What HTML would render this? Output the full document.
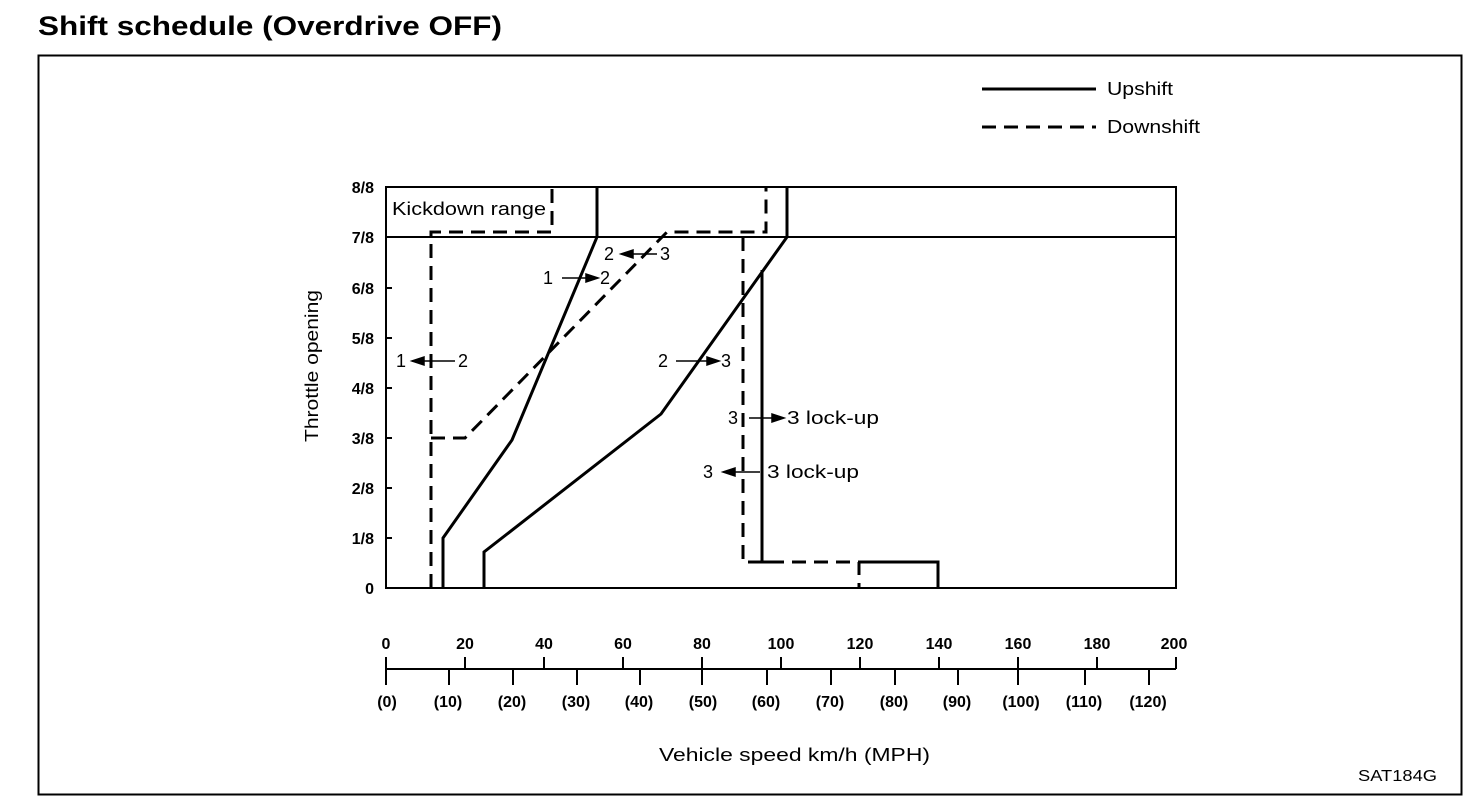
<!DOCTYPE html>
<html><head><meta charset="utf-8"><style>
html,body{margin:0;padding:0;background:#fff;}
svg{display:block;font-family:"Liberation Sans",Arial,sans-serif;}
</style></head><body>
<svg width="1472" height="810" viewBox="0 0 1472 810" xmlns="http://www.w3.org/2000/svg">
<text x="38" y="35" font-size="27" font-weight="bold" textLength="464" lengthAdjust="spacingAndGlyphs">Shift schedule (Overdrive OFF)</text>
<rect x="38.5" y="55.5" width="1423" height="739" fill="none" stroke="#000" stroke-width="2"/>
<g stroke="#000" fill="none">
<line x1="982" y1="89" x2="1096" y2="89" stroke-width="3"/>
<line x1="982" y1="127" x2="1096" y2="127" stroke-width="3" stroke-dasharray="14,8"/>
<rect x="386" y="187" width="790" height="401" stroke-width="2"/>
<line x1="386" y1="237" x2="1176" y2="237" stroke-width="2"/>
<g stroke-width="2">
<line x1="386" y1="288" x2="392" y2="288"/><line x1="386" y1="338" x2="392" y2="338"/>
<line x1="386" y1="388" x2="392" y2="388"/><line x1="386" y1="438" x2="392" y2="438"/>
<line x1="386" y1="488" x2="392" y2="488"/><line x1="386" y1="538" x2="392" y2="538"/>
</g>
<polyline points="443,588 443,538 512,440 597,237 597,187" stroke-width="3"/>
<polyline points="484,588 484,552 661,414 787,237 787,187" stroke-width="3"/>
<polyline points="762,270 762,562 780,562" stroke-width="3"/>
<polyline points="859,562 938,562 938,588" stroke-width="3"/>
<g stroke-width="3" stroke-dasharray="14,8">
<polyline points="431,588 431,232 552,232 552,187"/>
<polyline points="431,438 465,438 667,232 766,232 766,187"/>
<polyline points="743,237 743,562 859,562 859,588"/>
</g>
<line x1="386" y1="669" x2="1176" y2="669" stroke-width="2"/>
<g stroke-width="2">
<line x1="386" y1="657" x2="386" y2="685"/>
<line x1="465" y1="657" x2="465" y2="669"/><line x1="544" y1="657" x2="544" y2="669"/>
<line x1="623" y1="657" x2="623" y2="669"/><line x1="702" y1="657" x2="702" y2="685"/>
<line x1="781" y1="657" x2="781" y2="669"/><line x1="860" y1="657" x2="860" y2="669"/>
<line x1="939" y1="657" x2="939" y2="669"/><line x1="1018" y1="657" x2="1018" y2="685"/>
<line x1="1097" y1="657" x2="1097" y2="669"/><line x1="1176" y1="657" x2="1176" y2="669"/>
<line x1="449" y1="669" x2="449" y2="685"/><line x1="513" y1="669" x2="513" y2="685"/>
<line x1="577" y1="669" x2="577" y2="685"/><line x1="640" y1="669" x2="640" y2="685"/>
<line x1="767" y1="669" x2="767" y2="685"/><line x1="831" y1="669" x2="831" y2="685"/>
<line x1="895" y1="669" x2="895" y2="685"/><line x1="958" y1="669" x2="958" y2="685"/>
<line x1="1085" y1="669" x2="1085" y2="685"/><line x1="1149" y1="669" x2="1149" y2="685"/>
</g>
</g>
<g stroke="#000" stroke-width="1.5" fill="#000">
<line x1="412" y1="361" x2="455" y2="361"/><polygon points="412,361 424,357 424,365"/>
<line x1="562" y1="278" x2="597" y2="278"/><polygon points="598,278 586,274 586,282"/>
<line x1="622" y1="254" x2="657" y2="254"/><polygon points="621,254 633,250 633,258"/>
<line x1="676" y1="361" x2="718" y2="361"/><polygon points="719,361 707,357 707,365"/>
<line x1="749" y1="418" x2="783" y2="418"/><polygon points="784,418 772,414 772,422"/>
<line x1="724" y1="472" x2="760" y2="472"/><polygon points="723,472 735,468 735,476"/>
</g>
<g font-size="18" fill="#000">
<text x="1107" y="95" textLength="66" lengthAdjust="spacingAndGlyphs">Upshift</text>
<text x="1107" y="133" textLength="93" lengthAdjust="spacingAndGlyphs">Downshift</text>
<text x="392" y="215" textLength="154" lengthAdjust="spacingAndGlyphs">Kickdown range</text>
<text x="396" y="367">1</text><text x="458" y="367">2</text>
<text x="543" y="284">1</text><text x="600" y="284">2</text>
<text x="604" y="260">2</text><text x="660" y="260">3</text>
<text x="658" y="367">2</text><text x="721" y="367">3</text>
<text x="728" y="424">3</text><text x="787" y="424" textLength="92" lengthAdjust="spacingAndGlyphs">3 lock-up</text>
<text x="703" y="478">3</text><text x="767" y="478" textLength="92" lengthAdjust="spacingAndGlyphs">3 lock-up</text>
<text x="659" y="761" textLength="271" lengthAdjust="spacingAndGlyphs">Vehicle speed  km/h (MPH)</text>
<text x="1358" y="781" font-size="16" textLength="79" lengthAdjust="spacingAndGlyphs">SAT184G</text>
</g>
<g font-size="16" font-weight="bold" text-anchor="end">
<text x="374" y="193">8/8</text><text x="374" y="243">7/8</text><text x="374" y="294">6/8</text>
<text x="374" y="344">5/8</text><text x="374" y="394">4/8</text><text x="374" y="444">3/8</text>
<text x="374" y="494">2/8</text><text x="374" y="544">1/8</text><text x="374" y="594">0</text>
</g>
<text transform="translate(318,366) rotate(-90)" font-size="18" text-anchor="middle" textLength="152" lengthAdjust="spacingAndGlyphs">Throttle opening</text>
<g font-size="16" font-weight="bold" text-anchor="middle">
<text x="386" y="649">0</text><text x="465" y="649">20</text><text x="544" y="649">40</text>
<text x="623" y="649">60</text><text x="702" y="649">80</text><text x="781" y="649">100</text>
<text x="860" y="649">120</text><text x="939" y="649">140</text><text x="1018" y="649">160</text>
<text x="1097" y="649">180</text><text x="1174" y="649">200</text>
<text x="387" y="707">(0)</text><text x="448" y="707">(10)</text><text x="512" y="707">(20)</text>
<text x="576" y="707">(30)</text><text x="639" y="707">(40)</text><text x="703" y="707">(50)</text>
<text x="766" y="707">(60)</text><text x="830" y="707">(70)</text><text x="894" y="707">(80)</text>
<text x="957" y="707">(90)</text><text x="1021" y="707">(100)</text><text x="1084" y="707">(110)</text>
<text x="1148" y="707">(120)</text>
</g>
</svg>
</body></html>
